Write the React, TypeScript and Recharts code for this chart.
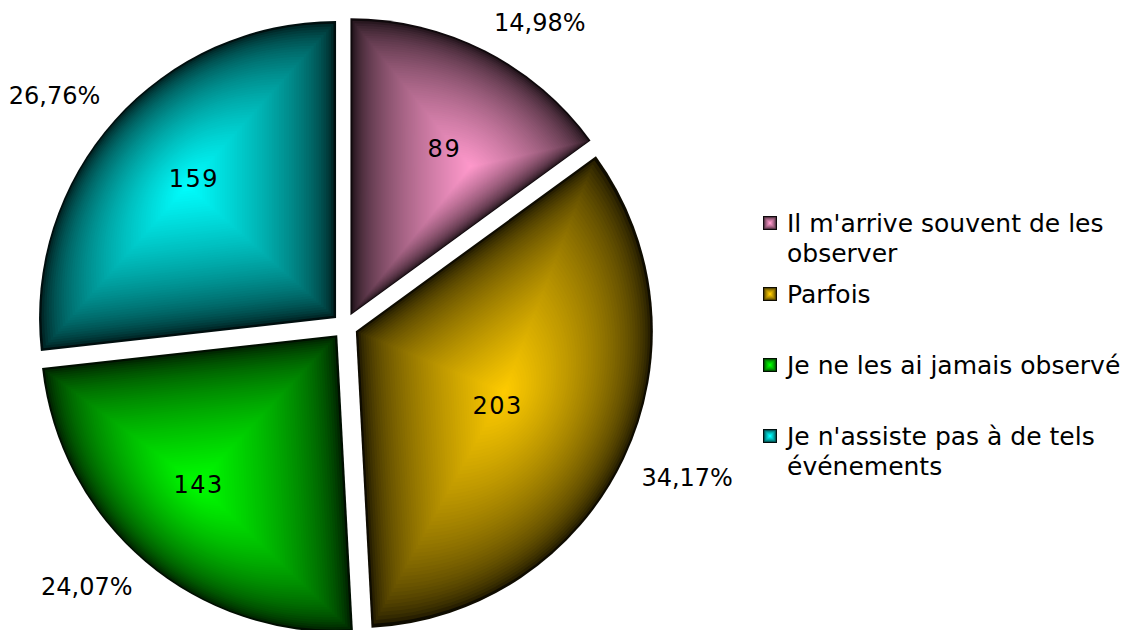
import React from "react";
import { PieChart, Pie, Legend } from "recharts";

const answers = [
  "Il m'arrive souvent de les observer",
  "Parfois",
  "Je ne les ai jamais observé",
  "Je n'assiste pas à de tels événements",
];
const counts = [89, 203, 143, 159];
const colors = ["#ff99cc", "#ffcc00", "#00ff00", "#00ffff"];

const data = answers.map((name, i) => ({ name, value: counts[i], fill: colors[i] }));

const CX = 345;
const CY = 326;
const RADIUS = 297;
const EXPLODE = 12;
const LAYERS = 60;
const FONT = "'DejaVu Sans', Verdana, sans-serif";

const RAD = Math.PI / 180;
const polar = (x: number, y: number, r: number, deg: number) => [
  x + r * Math.cos(-deg * RAD),
  y + r * Math.sin(-deg * RAD),
];

const hexToRgb = (hex: string) => {
  const n = parseInt(hex.slice(1), 16);
  return [(n >> 16) & 255, (n >> 8) & 255, n & 255];
};

// edge-to-centre shade: near black at the rim, full colour at the apex
const shade = (hex: string, t: number) => {
  const k = 0.06 + 0.94 * Math.pow(t, 0.55);
  const [r, g, b] = hexToRgb(hex);
  return `rgb(${Math.round(r * k)},${Math.round(g * k)},${Math.round(b * k)})`;
};

// exploded sector geometry: tip, outline path and the centre of its bounding box
const sectorGeometry = (cx: number, cy: number, r: number, startAngle: number, endAngle: number, midAngle: number) => {
  const [vx, vy] = polar(cx, cy, EXPLODE, midAngle);
  const [sx, sy] = polar(vx, vy, r, startAngle);
  const [ex, ey] = polar(vx, vy, r, endAngle);
  const large = Math.abs(startAngle - endAngle) > 180 ? 1 : 0;
  const sweep = startAngle > endAngle ? 1 : 0;
  const d = `M${vx},${vy}L${sx},${sy}A${r},${r} 0 ${large} ${sweep} ${ex},${ey}Z`;

  let minX = vx, maxX = vx, minY = vy, maxY = vy;
  for (let i = 0; i <= 90; i++) {
    const a = startAngle + ((endAngle - startAngle) * i) / 90;
    const [px, py] = polar(vx, vy, r, a);
    minX = Math.min(minX, px);
    maxX = Math.max(maxX, px);
    minY = Math.min(minY, py);
    maxY = Math.max(maxY, py);
  }
  return { vx, vy, d, ax: (minX + maxX) / 2, ay: (minY + maxY) / 2 };
};

// pyramid gradient: nested copies of the sector shrunk toward the box centre
const PyramidSector = (props: any) => {
  const { cx, cy, outerRadius, startAngle, endAngle, midAngle, fill } = props;
  const { d, ax, ay } = sectorGeometry(cx, cy, outerRadius, startAngle, endAngle, midAngle);
  const layers = [];
  for (let k = 0; k < LAYERS; k++) {
    const s = 1 - k / LAYERS;
    layers.push(
      <path
        key={k}
        d={d}
        fill={shade(fill, k / LAYERS)}
        transform={`translate(${ax} ${ay}) scale(${s}) translate(${-ax} ${-ay})`}
      />
    );
  }
  return <g>{layers}</g>;
};

const formatPercent = (p: number) =>
  (Math.floor(p * 10000) / 100).toFixed(2).replace(".", ",") + "%";

const PCT_W = 92;
const PCT_H = 22;
const PCT_GAP = 19;

const renderLabel = (props: any) => {
  const { cx, cy, midAngle, outerRadius, startAngle, endAngle, percent, value } = props;
  const { vx, vy, ax, ay } = sectorGeometry(cx, cy, outerRadius, startAngle, endAngle, midAngle);
  // value sits at the box-centre distance, a little past the mid angle
  const inner = Math.hypot(ax - vx, ay - vy);
  const [ix, iy] = polar(vx, vy, inner, midAngle - 2.5);
  // percentage box sits just outside the rim, on the side the slice faces
  const [px, py] = polar(vx, vy, outerRadius + PCT_GAP, midAngle);
  const ux = Math.cos(-midAngle * RAD);
  const uy = Math.sin(-midAngle * RAD);
  const ox = px + (PCT_W / 2) * Math.sign(ux);
  const oy = py + (PCT_H / 2) * Math.sign(uy);
  return (
    <g>
      <text
        x={ix}
        y={iy}
        textAnchor="middle"
        dominantBaseline="central"
        fontFamily={FONT}
        fontSize={24}
        letterSpacing={1.5}
        fill="#000"
      >
        {value}
      </text>
      <text
        x={ox}
        y={oy}
        textAnchor="middle"
        dominantBaseline="central"
        fontFamily={FONT}
        fontSize={24}
        fill="#000"
      >
        {formatPercent(percent)}
      </text>
    </g>
  );
};

const LegendMarker = ({ color }: { color: string }) => {
  const steps = [0, 1, 2, 3, 4, 5];
  return (
    <svg width={14} height={14} style={{ display: "block" }}>
      {steps.map((i) => (
        <rect
          key={i}
          x={i * 1.2}
          y={i * 1.2}
          width={14 - i * 2.4}
          height={14 - i * 2.4}
          fill={shade(color, i / 5)}
        />
      ))}
    </svg>
  );
};

// legend rows in data order, one equal slot per answer
const renderLegend = () => (
  <div style={{ fontFamily: FONT, fontSize: 25, lineHeight: "30px", color: "#000" }}>
    {data.map((entry) => (
      <div key={entry.name} style={{ height: 71, display: "flex", alignItems: "flex-start" }}>
        <div style={{ width: 14, marginTop: 7, marginRight: 10, flex: "none" }}>
          <LegendMarker color={entry.fill} />
        </div>
        <div style={{ width: 350 }}>{entry.name}</div>
      </div>
    ))}
  </div>
);

export default function App() {
  return (
    <div style={{ position: "absolute", left: 0, top: 0, width: 1145, height: 630, background: "#fff" }}>
      <PieChart width={1145} height={630} margin={{ top: 0, right: 0, bottom: 0, left: 0 }}>
        <Pie
          data={data}
          dataKey="value"
          nameKey="name"
          cx={CX}
          cy={CY}
          outerRadius={RADIUS}
          startAngle={90}
          endAngle={-270}
          stroke="none"
          shape={PyramidSector}
          activeShape={PyramidSector}
          inactiveShape={PyramidSector}
          label={renderLabel}
          labelLine={false}
          isAnimationActive={false}
        />
        <Legend
          layout="vertical"
          content={renderLegend}
          wrapperStyle={{ position: "absolute", left: 763, top: 209, width: 382 }}
        />
      </PieChart>
    </div>
  );
}
